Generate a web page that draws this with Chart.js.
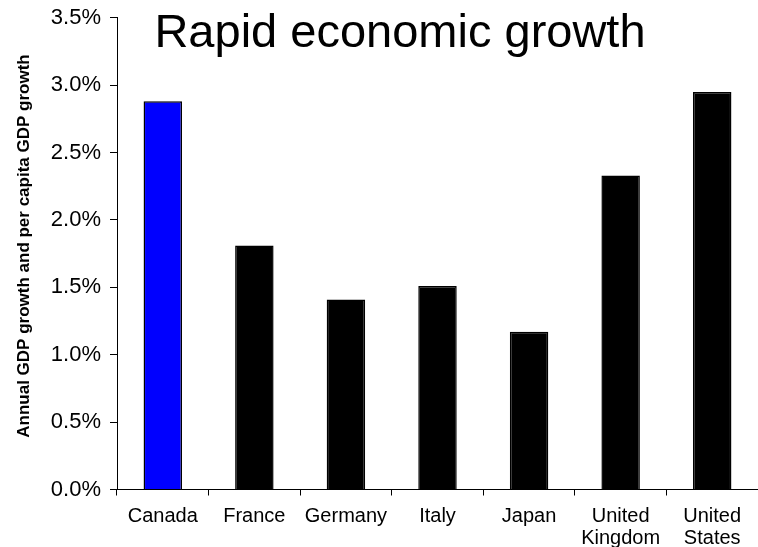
<!DOCTYPE html>
<html>
<head>
<meta charset="utf-8">
<script src="https://cdn.jsdelivr.net/npm/chart.js@4.4.1/dist/chart.umd.min.js"></script>
<style>
  html, body { margin: 0; padding: 0; background: #fff; }
  #wrap { width: 758px; height: 547px; position: relative; }
</style>
</head>
<body>
<div id="wrap"><canvas id="growth"></canvas></div>
<script>
const countries = ['Canada', 'France', 'Germany', 'Italy', 'Japan', ['United', 'Kingdom'], ['United', 'States']];
const growthPct = [2.88, 1.81, 1.41, 1.51, 1.17, 2.33, 2.95];
const barColors = ['#0000ff', '#000000', '#000000', '#000000', '#000000', '#000000', '#000000'];
const chartTitle = 'Rapid economic growth';
const yTitle = 'Annual GDP growth and per capita GDP growth';

Chart.defaults.font.family = '"Liberation Sans", Arial, sans-serif';
Chart.defaults.color = '#000';

// title sits inside the plot area, and the axis label is a bit above centre,
// so both are painted by hand after the chart
const overlayText = {
    id: 'overlayText',
    afterDraw(chart) {
        const ctx = chart.ctx;
        ctx.save();
        ctx.fillStyle = '#000';
        ctx.textAlign = 'center';
        ctx.textBaseline = 'alphabetic';
        ctx.font = '47px "Liberation Sans", Arial, sans-serif';
        ctx.fillText(chartTitle, 400, 47);

        ctx.translate(28.5, 246);
        ctx.rotate(-Math.PI / 2);
        ctx.font = 'bold 17px "Liberation Sans", Arial, sans-serif';
        ctx.fillText(yTitle, 0, 0);
        ctx.restore();
    }
};

new Chart(document.getElementById('growth').getContext('2d'), {
    type: 'bar',
    data: {
        labels: countries,
        datasets: [{
            data: growthPct,
            backgroundColor: barColors,
            borderColor: '#000',
            borderWidth: 1.5,
            barPercentage: 0.42,
            categoryPercentage: 1.0
        }]
    },
    options: {
        responsive: true,
        maintainAspectRatio: false,
        animation: false,
        layout: { padding: { top: 17.5, right: 0, left: 0, bottom: 0 } },
        plugins: {
            legend: { display: false },
            tooltip: { enabled: false }
        },
        scales: {
            x: {
                grid: {
                    offset: true,
                    drawOnChartArea: false,
                    drawTicks: true,
                    tickLength: 6,
                    color: '#000'
                },
                border: { color: '#000', width: 1 },
                ticks: {
                    padding: 10,
                    maxRotation: 0,
                    autoSkip: false,
                    font: { size: 20, lineHeight: 1.1 }
                },
                afterFit(scale) { scale.height = 57.5; }
            },
            y: {
                min: 0,
                max: 3.5,
                grid: {
                    drawOnChartArea: false,
                    drawTicks: true,
                    tickLength: 7,
                    color: '#000'
                },
                border: { color: '#000', width: 1 },
                ticks: {
                    stepSize: 0.5,
                    padding: 9,
                    font: { size: 22, lineHeight: 0.8 },
                    callback: v => v.toFixed(1) + '%'
                },
                afterFit(scale) { scale.width = 117; }
            }
        }
    },
    plugins: [overlayText]
});
</script>
</body>
</html>
